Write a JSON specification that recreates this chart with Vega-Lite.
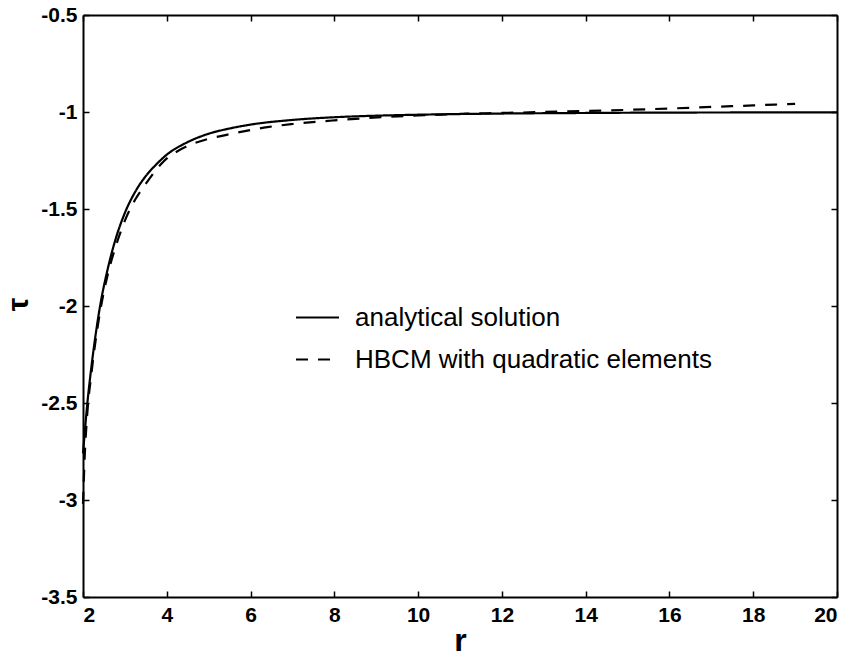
{
  "$schema": "https://vega.github.io/schema/vega-lite/v6.json",
  "width": 754,
  "height": 582,
  "autosize": {"type": "none"},
  "padding": {"left": 83, "top": 15, "right": 15, "bottom": 59},
  "background": "white",
  "config": {
    "view": {"stroke": null},
    "font": "Liberation Sans",
    "axis": {
      "domainColor": "black",
      "domainWidth": 2,
      "tickColor": "black",
      "tickWidth": 1.5,
      "tickSize": -6,
      "grid": false,
      "labelFont": "Liberation Sans",
      "labelFontWeight": "bold",
      "labelFontSize": 21,
      "labelColor": "black",
      "titleColor": "black",
      "titleFont": "Liberation Sans"
    },
    "legend": {
      "orient": "none",
      "legendX": 212,
      "legendY": 280,
      "symbolType": "stroke",
      "symbolSize": 1849,
      "symbolStrokeWidth": 2,
      "symbolStrokeColor": "black",
      "labelFont": "Liberation Sans",
      "labelFontSize": 26,
      "labelColor": "black",
      "labelLimit": 0,
      "rowPadding": 6,
      "labelOffset": 15,
      "padding": 0
    }
  },
  "data": {
    "values": [
      {"r": 2.0, "tau": -2.76, "s": "analytical solution"},
      {"r": 2.05, "tau": -2.63, "s": "analytical solution"},
      {"r": 2.1, "tau": -2.51, "s": "analytical solution"},
      {"r": 2.2, "tau": -2.315, "s": "analytical solution"},
      {"r": 2.3, "tau": -2.15, "s": "analytical solution"},
      {"r": 2.4, "tau": -2.01, "s": "analytical solution"},
      {"r": 2.6, "tau": -1.8, "s": "analytical solution"},
      {"r": 2.8, "tau": -1.64, "s": "analytical solution"},
      {"r": 3.0, "tau": -1.52, "s": "analytical solution"},
      {"r": 3.25, "tau": -1.41, "s": "analytical solution"},
      {"r": 3.5, "tau": -1.33, "s": "analytical solution"},
      {"r": 3.75, "tau": -1.27, "s": "analytical solution"},
      {"r": 4.0, "tau": -1.22, "s": "analytical solution"},
      {"r": 4.5, "tau": -1.155, "s": "analytical solution"},
      {"r": 5.0, "tau": -1.112, "s": "analytical solution"},
      {"r": 5.5, "tau": -1.085, "s": "analytical solution"},
      {"r": 6.0, "tau": -1.065, "s": "analytical solution"},
      {"r": 7.0, "tau": -1.041, "s": "analytical solution"},
      {"r": 8.0, "tau": -1.027, "s": "analytical solution"},
      {"r": 9.0, "tau": -1.019, "s": "analytical solution"},
      {"r": 10.0, "tau": -1.014, "s": "analytical solution"},
      {"r": 12.0, "tau": -1.008, "s": "analytical solution"},
      {"r": 14.0, "tau": -1.005, "s": "analytical solution"},
      {"r": 16.0, "tau": -1.003, "s": "analytical solution"},
      {"r": 20.0, "tau": -1.002, "s": "analytical solution"},
      {"r": 2.0, "tau": -3.02, "s": "HBCM with quadratic elements"},
      {"r": 2.04, "tau": -2.78, "s": "HBCM with quadratic elements"},
      {"r": 2.1, "tau": -2.56, "s": "HBCM with quadratic elements"},
      {"r": 2.2, "tau": -2.35, "s": "HBCM with quadratic elements"},
      {"r": 2.3, "tau": -2.18, "s": "HBCM with quadratic elements"},
      {"r": 2.4, "tau": -2.04, "s": "HBCM with quadratic elements"},
      {"r": 2.6, "tau": -1.83, "s": "HBCM with quadratic elements"},
      {"r": 2.8, "tau": -1.68, "s": "HBCM with quadratic elements"},
      {"r": 3.0, "tau": -1.56, "s": "HBCM with quadratic elements"},
      {"r": 3.25, "tau": -1.45, "s": "HBCM with quadratic elements"},
      {"r": 3.5, "tau": -1.37, "s": "HBCM with quadratic elements"},
      {"r": 3.9, "tau": -1.26, "s": "HBCM with quadratic elements"},
      {"r": 4.4, "tau": -1.185, "s": "HBCM with quadratic elements"},
      {"r": 5.0, "tau": -1.138, "s": "HBCM with quadratic elements"},
      {"r": 5.4, "tau": -1.119, "s": "HBCM with quadratic elements"},
      {"r": 6.0, "tau": -1.093, "s": "HBCM with quadratic elements"},
      {"r": 6.4, "tau": -1.078, "s": "HBCM with quadratic elements"},
      {"r": 7.0, "tau": -1.062, "s": "HBCM with quadratic elements"},
      {"r": 8.0, "tau": -1.043, "s": "HBCM with quadratic elements"},
      {"r": 9.2, "tau": -1.026, "s": "HBCM with quadratic elements"},
      {"r": 10.0, "tau": -1.018, "s": "HBCM with quadratic elements"},
      {"r": 11.0, "tau": -1.01, "s": "HBCM with quadratic elements"},
      {"r": 12.0, "tau": -1.005, "s": "HBCM with quadratic elements"},
      {"r": 13.0, "tau": -1.0, "s": "HBCM with quadratic elements"},
      {"r": 14.0, "tau": -0.995, "s": "HBCM with quadratic elements"},
      {"r": 15.0, "tau": -0.989, "s": "HBCM with quadratic elements"},
      {"r": 16.0, "tau": -0.982, "s": "HBCM with quadratic elements"},
      {"r": 17.0, "tau": -0.974, "s": "HBCM with quadratic elements"},
      {"r": 18.0, "tau": -0.966, "s": "HBCM with quadratic elements"},
      {"r": 19.0, "tau": -0.958, "s": "HBCM with quadratic elements"}
    ]
  },
  "layer": [
    {
      "mark": {"type": "line", "color": "black", "strokeWidth": 2.2, "interpolate": "monotone"},
      "encoding": {
        "x": {
          "field": "r", "type": "quantitative",
          "scale": {"domain": [2, 20], "nice": false, "zero": false},
          "axis": {
            "orient": "bottom",
            "values": [2, 4, 6, 8, 10, 12, 14, 16, 18, 20],
            "labelPadding": 13,
            "title": "r",
            "titleFontSize": 32,
            "titleFontWeight": "bold",
            "titleBaseline": "alphabetic",
            "titleY": 53,
            "titleX": 377
          }
        },
        "y": {
          "field": "tau", "type": "quantitative",
          "scale": {"domain": [-3.5, -0.5], "nice": false, "zero": false},
          "axis": {
            "orient": "left",
            "values": [-3.5, -3, -2.5, -2, -1.5, -1, -0.5],
            "labelExpr": "'' + datum.value",
            "labelPadding": 12,
            "title": "τ",
            "titleFontSize": 30,
            "titleFontWeight": "bold",
            "titleAngle": -90,
            "titleBaseline": "alphabetic",
            "titleAlign": "center",
            "titleX": -56,
            "titleY": 289
          }
        },
        "strokeDash": {
          "field": "s", "type": "nominal",
          "scale": {
            "domain": ["analytical solution", "HBCM with quadratic elements"],
            "range": [[1, 0], [12, 10]]
          },
          "legend": {"title": null}
        }
      }
    },
    {
      "mark": {"type": "point", "opacity": 0},
      "encoding": {
        "x": {
          "field": "r", "type": "quantitative",
          "scale": {"domain": [2, 20], "nice": false, "zero": false},
          "axis": {"orient": "top", "values": [2, 4, 6, 8, 10, 12, 14, 16, 18, 20], "labels": false, "title": null}
        },
        "y": {
          "field": "tau", "type": "quantitative",
          "scale": {"domain": [-3.5, -0.5], "nice": false, "zero": false},
          "axis": {"orient": "right", "values": [-3.5, -3, -2.5, -2, -1.5, -1, -0.5], "labels": false, "title": null}
        }
      }
    }
  ],
  "resolve": {"axis": {"x": "independent", "y": "independent"}}
}
